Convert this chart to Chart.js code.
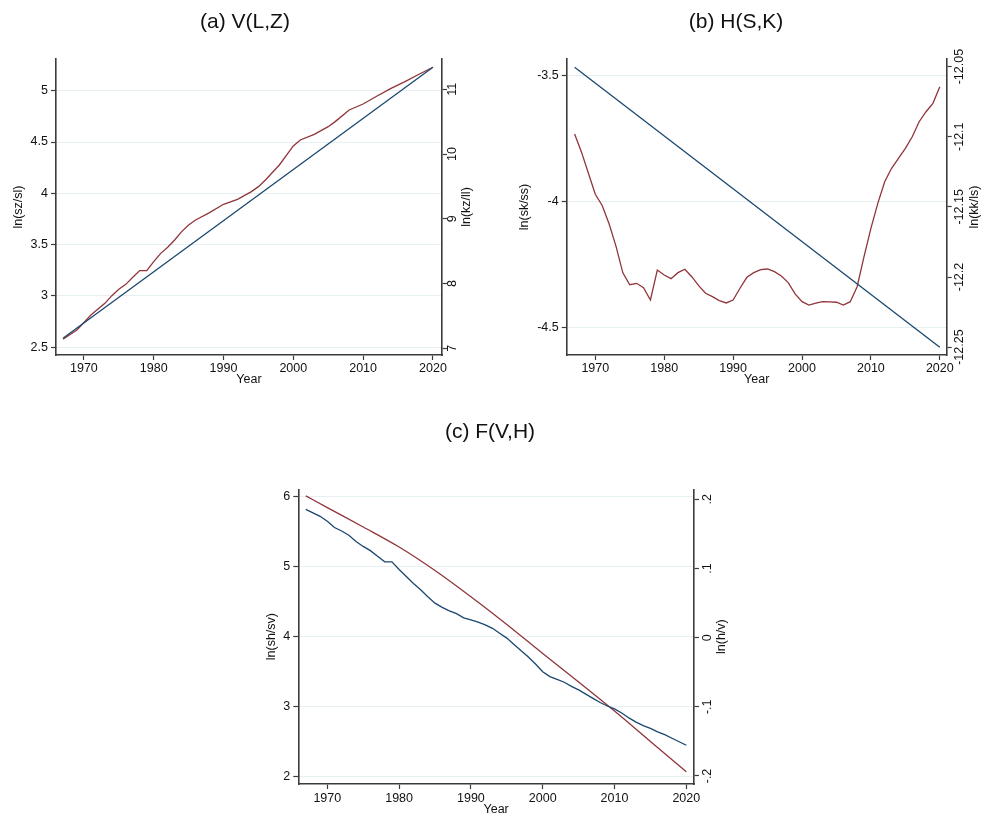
<!DOCTYPE html>
<html>
<head>
<meta charset="utf-8">
<script src="https://cdn.jsdelivr.net/npm/chart.js@4.4.0/dist/chart.umd.min.js"></script>
<style>
  html, body { margin: 0; padding: 0; background: #fff; }
  body { width: 982px; height: 820px; position: relative; overflow: hidden; }
  .panel { position: absolute; }
</style>
</head>
<body>
<div class="panel" style="left:0;top:0;width:490px;height:400px"><canvas id="chartA" width="490" height="400"></canvas></div>
<div class="panel" style="left:490px;top:0;width:492px;height:400px"><canvas id="chartB" width="492" height="400"></canvas></div>
<div class="panel" style="left:240px;top:410px;width:500px;height:410px"><canvas id="chartC" width="500" height="410"></canvas></div>
<script>
// ---- data ----
const years = [1967, 1968, 1969, 1970, 1971, 1972, 1973, 1974, 1975, 1976, 1977, 1978, 1979, 1980,
  1981, 1982, 1983, 1984, 1985, 1986, 1987, 1988, 1989, 1990, 1991, 1992, 1993, 1994, 1995, 1996,
  1997, 1998, 1999, 2000, 2001, 2002, 2003, 2004, 2005, 2006, 2007, 2008, 2009, 2010, 2011, 2012,
  2013, 2014, 2015, 2016, 2017, 2018, 2019, 2020];
const endYears = [1967, 2020];

const xTicks = [1970, 1980, 1990, 2000, 2010, 2020];
const xTickLabels = ['1970', '1980', '1990', '2000', '2010', '2020'];

// (a) V(L,Z)
const aLnSzSl = [2.588, 5.228];
const aRedYears = [1967, 1969, 1971, 1973, 1974, 1975, 1976, 1977, 1978, 1979, 1980, 1981, 1982, 1983,
  1984, 1985, 1986, 1988, 1990, 1992, 1994, 1995, 1996, 1998, 2000, 2001, 2003, 2005, 2006, 2008,
  2010, 2012, 2014, 2016, 2018, 2020];
const aLnKzLl = [7.139, 7.283, 7.515, 7.695, 7.813, 7.911, 7.988, 8.097, 8.200, 8.200, 8.338, 8.467,
  8.560, 8.673, 8.802, 8.905, 8.982, 9.095, 9.224, 9.301, 9.420, 9.497, 9.600, 9.831, 10.125, 10.218,
  10.305, 10.423, 10.501, 10.681, 10.773, 10.897, 11.015, 11.118, 11.232, 11.340];
const aLeftTicks = [2.5, 3, 3.5, 4, 4.5, 5];
const aLeftLabels = ['2.5', '3', '3.5', '4', '4.5', '5'];
const aRightTicks = [7, 8, 9, 10, 11];
const aRightLabels = ['7', '8', '9', '10', '11'];

// (b) H(S,K)
const bLnSkSs = [-3.465, -4.578];
const bLnKkLs = [-12.098, -12.111, -12.126, -12.141, -12.149, -12.162, -12.178, -12.197, -12.2055,
  -12.2045, -12.2076, -12.2164, -12.195, -12.1986, -12.2012, -12.1969, -12.1945, -12.1998, -12.2062,
  -12.2116, -12.214, -12.2168, -12.2185, -12.2164, -12.208, -12.2002, -12.1969, -12.1947, -12.1943,
  -12.1962, -12.1993, -12.204, -12.212, -12.2176, -12.220, -12.2187, -12.2176, -12.2178, -12.218,
  -12.220, -12.2176, -12.2069, -12.1855, -12.1653, -12.1475, -12.1321, -12.1225, -12.1154, -12.1083,
  -12.100, -12.0893, -12.0822, -12.0762, -12.0644];
const bLeftTicks = [-4.5, -4, -3.5];
const bLeftLabels = ['-4.5', '-4', '-3.5'];
const bRightTicks = [-12.25, -12.2, -12.15, -12.1, -12.05];
const bRightLabels = ['-12.25', '-12.2', '-12.15', '-12.1', '-12.05'];

// (c) F(V,H)
const cLnShSv = [5.82, 5.77, 5.72, 5.65, 5.56, 5.51, 5.45, 5.36, 5.29, 5.23, 5.15, 5.07, 5.07, 4.96,
  4.86, 4.76, 4.67, 4.57, 4.48, 4.42, 4.37, 4.33, 4.27, 4.24, 4.21, 4.17, 4.12, 4.05, 3.98, 3.89,
  3.80, 3.71, 3.61, 3.50, 3.43, 3.39, 3.35, 3.29, 3.24, 3.18, 3.12, 3.06, 3.01, 2.97, 2.91, 2.84,
  2.78, 2.73, 2.69, 2.64, 2.60, 2.55, 2.50, 2.45];
const cRedYears = [1967, 1970, 1975, 1980, 1985, 1990, 1995, 2000, 2005, 2010, 2015, 2020];
const cLnHV = [0.205, 0.188, 0.160, 0.131, 0.097, 0.059, 0.019, -0.023, -0.064, -0.106, -0.150, -0.194];
const cLeftTicks = [2, 3, 4, 5, 6];
const cLeftLabels = ['2', '3', '4', '5', '6'];
const cRightTicks = [-0.2, -0.1, 0, 0.1, 0.2];
const cRightLabels = ['-.2', '-.1', '0', '.1', '.2'];

// ---- style ----
const FONT = '"Liberation Sans", Arial, Helvetica, sans-serif';
const FS = 12.5;
const TEXT = '#111111';
const AXIS = '#3c3c3c';
const GRID = '#e6eff1';
const NAVY = '#1a476f';
const MAROON = '#90353b';

const pts = (xs, ys) => xs.map((x, i) => ({ x: x, y: ys[i] }));

// right axis: Stata writes tick labels and title reading bottom-to-top
function rightAxisText(p) {
  return {
    id: 'rightAxisText',
    afterDraw(chart) {
      const s = chart.scales.yR;
      const ctx = chart.ctx;
      ctx.save();
      ctx.fillStyle = TEXT;
      ctx.font = FS + 'px ' + FONT;
      ctx.textAlign = 'center';
      ctx.textBaseline = 'middle';
      p.rightTicks.forEach((v, i) => {
        ctx.save();
        ctx.translate(s.left + p.rLabelOff, s.getPixelForValue(v));
        ctx.rotate(-Math.PI / 2);
        ctx.fillText(p.rightLabels[i], 0, 0);
        ctx.restore();
      });
      ctx.translate(s.left + p.rTitleOff, (s.top + s.bottom) / 2);
      ctx.rotate(-Math.PI / 2);
      ctx.fillText(p.rightTitle, 0, 0);
      ctx.restore();
    }
  };
}

function panel(id, p) {
  const font = { family: FONT, size: FS };
  new Chart(document.getElementById(id), {
    type: 'line',
    data: {
      datasets: [
        { data: pts(p.blueX, p.blueY), yAxisID: p.blueAxis, borderColor: NAVY, borderWidth: 1.3, pointRadius: 0,
          cubicInterpolationMode: p.blueSmooth ? 'monotone' : 'default', tension: 0 },
        { data: pts(p.redX, p.redY), yAxisID: p.redAxis, borderColor: MAROON, borderWidth: 1.3, pointRadius: 0,
          cubicInterpolationMode: p.redSmooth ? 'monotone' : 'default', tension: 0 }
      ]
    },
    options: {
      responsive: false,
      animation: false,
      events: [],
      layout: { padding: 0 },
      plugins: {
        legend: { display: false },
        tooltip: { enabled: false },
        title: {
          display: true, text: p.title, color: TEXT,
          font: { family: FONT, size: 21, weight: 'normal', lineHeight: 1.2 },
          padding: { top: 9.4, bottom: p.titleGap }
        }
      },
      scales: {
        x: {
          type: 'linear', min: p.xMin, max: p.xMax,
          afterBuildTicks: s => { s.ticks = xTicks.map(v => ({ value: v })); },
          afterFit: s => { s.height = p.bottomH; },
          ticks: { callback: (v, i) => xTickLabels[i], font: font, color: TEXT, padding: p.xPad, maxRotation: 0, autoSkip: false },
          grid: { drawOnChartArea: false, drawTicks: true, tickLength: 5, tickColor: AXIS, tickWidth: 1.2 },
          border: { display: true, color: AXIS, width: 1.6 },
          title: { display: true, text: 'Year', color: TEXT, font: font, padding: { top: 0, bottom: p.yearPad } }
        },
        yL: {
          type: 'linear', position: 'left', min: p.lMin, max: p.lMax,
          afterBuildTicks: s => { s.ticks = p.leftTicks.map(v => ({ value: v })); },
          afterFit: s => { s.width = p.leftW; },
          ticks: { callback: (v, i) => p.leftLabels[i], font: font, color: TEXT, padding: 3, autoSkip: false },
          grid: { color: GRID, lineWidth: 1, drawTicks: true, tickLength: 5, tickColor: AXIS, tickWidth: 1.2 },
          border: { display: true, color: AXIS, width: 1.6 },
          title: { display: true, text: p.leftTitle, color: TEXT, font: font, padding: { top: p.lTitlePad, bottom: 0 } }
        },
        yR: {
          type: 'linear', position: 'right', min: p.rMin, max: p.rMax,
          afterBuildTicks: s => { s.ticks = p.rightTicks.map(v => ({ value: v })); },
          afterFit: s => { s.width = p.rightW; },
          ticks: { display: false },
          grid: { drawOnChartArea: false, drawTicks: true, tickLength: 5, tickColor: AXIS, tickWidth: 1.2 },
          border: { display: true, color: AXIS, width: 1.6 }
        }
      }
    },
    plugins: [rightAxisText(p)]
  });
}

panel('chartA', {
  title: '(a) V(L,Z)', titleGap: 24.4, bottomH: 45, xPad: 1, yearPad: 12.5,
  xMin: 1966.0, xMax: 2021.3,
  blueX: endYears, blueY: aLnSzSl, blueAxis: 'yL',
  redX: aRedYears, redY: aLnKzLl, redAxis: 'yR',
  lMin: 2.425, lMax: 5.309, leftTicks: aLeftTicks, leftLabels: aLeftLabels, leftW: 56,
  leftTitle: 'ln(sz/sl)', lTitlePad: 10.8,
  rMin: 6.897, rMax: 11.468, rightTicks: aRightTicks, rightLabels: aRightLabels, rightW: 48,
  rightTitle: 'ln(kz/ll)', rLabelOff: 10.7, rTitleOff: 24.7
});

panel('chartB', {
  title: '(b) H(S,K)', titleGap: 24.4, bottomH: 45, xPad: 1, yearPad: 12.5,
  xMin: 1965.85, xMax: 2021.0,
  blueX: endYears, blueY: bLnSkSs, blueAxis: 'yL',
  redX: years, redY: bLnKkLs, redAxis: 'yR',
  lMin: -4.6085, lMax: -3.4325, leftTicks: bLeftTicks, leftLabels: bLeftLabels, leftW: 76.7,
  leftTitle: 'ln(sk/ss)', lTitlePad: 26.8,
  rMin: -12.2556, rMax: -12.0446, rightTicks: bRightTicks, rightLabels: bRightLabels, rightW: 35.3,
  rightTitle: 'ln(kk/ls)', rLabelOff: 12.6, rTitleOff: 28.3
});

panel('chartC', {
  title: '(c) F(V,H)', titleGap: 44.7, bottomH: 36, xPad: 2, yearPad: 2.5,
  xMin: 1965.96, xMax: 2021.07,
  blueX: years, blueY: cLnShSv, blueAxis: 'yL',
  redX: cRedYears, redY: cLnHV, redAxis: 'yR', redSmooth: true,
  lMin: 1.896, lMax: 6.106, leftTicks: cLeftTicks, leftLabels: cLeftLabels, leftW: 58.3,
  leftTitle: 'ln(sh/sv)', lTitlePad: 24.2,
  rMin: -0.2116, rMax: 0.2145, rightTicks: cRightTicks, rightLabels: cRightLabels, rightW: 46,
  rightTitle: 'ln(h/v)', rLabelOff: 13.5, rTitleOff: 27.7
});
</script>
</body>
</html>
